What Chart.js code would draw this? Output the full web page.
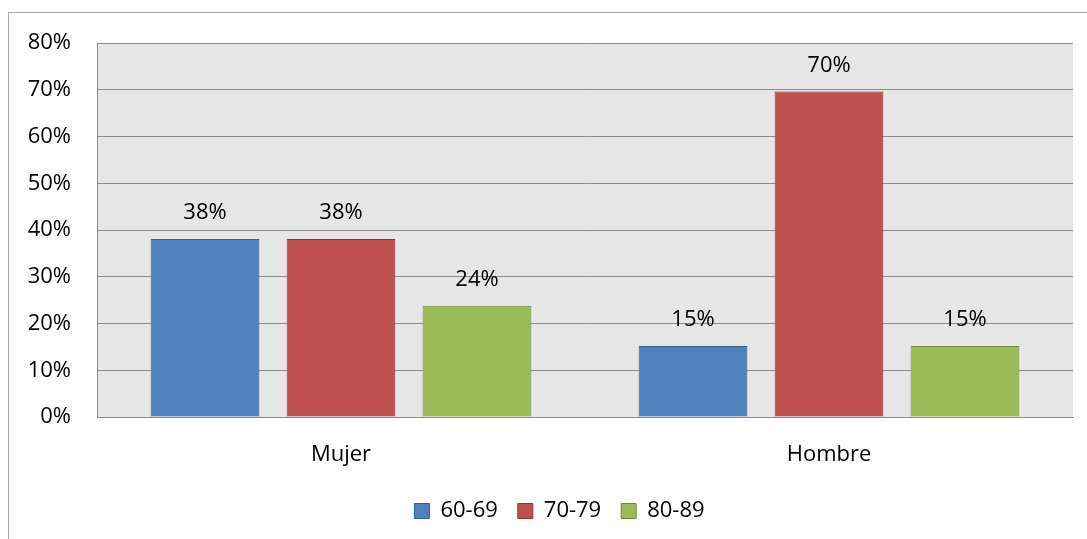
<!DOCTYPE html>
<html>
<head>
<meta charset="utf-8">
<script src="https://cdn.jsdelivr.net/npm/chart.js@4"></script>
<style>
  html, body { margin: 0; padding: 0; background: #fff; overflow: hidden; }
  #wrap { position: relative; width: 1087px; height: 539px; }
</style>
</head>
<body>
<div id="wrap"><canvas id="myBarChart"></canvas></div>
<script>
const categories = ['Mujer', 'Hombre'];
const seriesNames = ['60-69', '70-79', '80-89'];
const values6069 = [38.1, 15.2];
const values7079 = [38.1, 69.6];
const values8089 = [23.8, 15.2];
const fillColors = ['#4f81bd', '#c0504d', '#9bbb59'];
const edgeColors = ['#385d8a', '#8c3836', '#71893f'];

const fontFamily = '"Open Sans", sans-serif';

// gray plot background + outer frame
const plotBackground = {
    id: 'plotBackground',
    beforeDraw(chart) {
        const {ctx, chartArea} = chart;
        ctx.save();
        ctx.strokeStyle = '#a6a6a6';
        ctx.lineWidth = 1;
        ctx.strokeRect(8.5, 12.5, 2000, 2000);
        ctx.fillStyle = '#e6e6e6';
        ctx.fillRect(chartArea.left, chartArea.top, chartArea.right - chartArea.left, chartArea.bottom - chartArea.top);
        ctx.restore();
    }
};

// legend sits a bit right of the canvas centre in the original
const legendShift = {
    id: 'legendShift',
    afterLayout(chart) {
        chart.legend.left += 23;
        chart.legend.right += 23;
    }
};

// percent labels above bars
const barLabels = {
    id: 'barLabels',
    afterDatasetsDraw(chart) {
        const ctx = chart.ctx;
        ctx.save();
        ctx.font = '22px ' + fontFamily;
        ctx.fillStyle = '#000';
        ctx.textAlign = 'center';
        ctx.textBaseline = 'middle';
        chart.data.datasets.forEach((ds, i) => {
            chart.getDatasetMeta(i).data.forEach((bar, j) => {
                ctx.fillText(Math.round(ds.data[j]) + '%', bar.x, bar.y - 26);
            });
        });
        ctx.restore();
    }
};

document.addEventListener('DOMContentLoaded', function() {
    const ctxBar = document.getElementById('myBarChart');
    new Chart(ctxBar, {
        type: 'bar',
        data: {
            labels: categories,
            datasets: [
                { label: seriesNames[0], data: values6069, backgroundColor: fillColors[0], borderColor: edgeColors[0], borderWidth: 1 },
                { label: seriesNames[1], data: values7079, backgroundColor: fillColors[1], borderColor: edgeColors[1], borderWidth: 1 },
                { label: seriesNames[2], data: values8089, backgroundColor: fillColors[2], borderColor: edgeColors[2], borderWidth: 1 }
            ]
        },
        options: {
            responsive: true,
            maintainAspectRatio: false,
            animation: false,
            categoryPercentage: 0.836,
            barPercentage: 0.8,
            layout: { padding: { left: 0, right: 14, top: 43, bottom: 7 } },
            plugins: {
                tooltip: { enabled: false },
                legend: {
                    position: 'bottom',
                    labels: {
                        boxWidth: 15,
                        boxHeight: 15,
                        padding: 20,
                        color: '#000',
                        font: { family: fontFamily, size: 22 }
                    }
                }
            },
            scales: {
                x: {
                    grid: { display: false, drawTicks: false },
                    border: { display: true, color: '#8c8c8c' },
                    ticks: { color: '#000', padding: 25, font: { family: fontFamily, size: 22 } },
                    afterFit(scale) { scale.height = 63; }
                },
                y: {
                    min: 0,
                    max: 80,
                    grid: { color: '#8c8c8c', drawTicks: false },
                    border: { display: true, color: '#8c8c8c' },
                    ticks: {
                        stepSize: 10,
                        padding: 26,
                        color: '#000',
                        font: { family: fontFamily, size: 22 },
                        callback: v => v + '%'
                    },
                    afterFit(scale) { scale.width = 97; }
                }
            }
        },
        plugins: [plotBackground, legendShift, barLabels]
    });
});
</script>
</body>
</html>
